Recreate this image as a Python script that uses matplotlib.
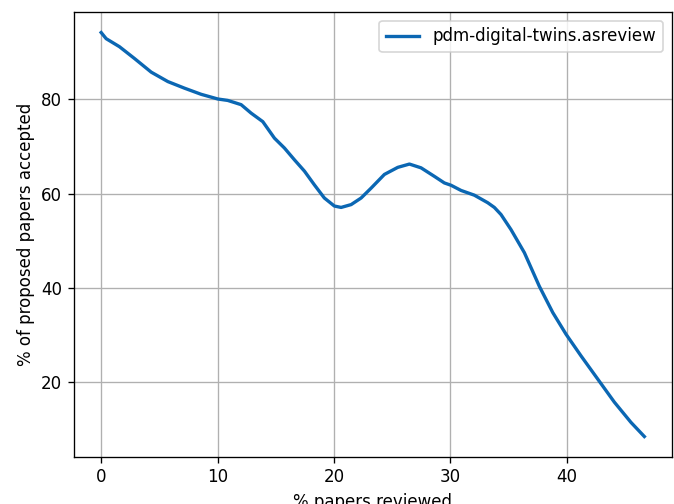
import matplotlib
matplotlib.use("Agg")
import matplotlib.pyplot as plt

# % papers reviewed vs % of proposed papers accepted
reviewed = [0.0, 0.43, 1.57, 2.86, 4.30, 5.73, 7.16, 8.59, 10.03, 10.88,
            12.03, 12.89, 13.89, 14.89, 15.75, 16.61, 17.47, 18.32, 19.18, 20.04,
            20.62, 21.48, 22.34, 23.20, 24.34, 25.49, 26.49, 27.49, 28.63, 29.49,
            30.07, 30.93, 32.07, 33.22, 33.79, 34.36, 35.22, 36.37, 37.65, 38.81,
            39.95, 41.24, 42.67, 44.10, 45.53, 46.68]
accepted = [94.2, 92.9, 91.2, 88.7, 85.8, 83.8, 82.4, 81.1, 80.1, 79.8,
            78.9, 77.1, 75.3, 71.8, 69.7, 67.2, 64.8, 61.9, 59.1, 57.4,
            57.1, 57.7, 59.1, 61.2, 64.1, 65.6, 66.3, 65.5, 63.7, 62.3,
            61.8, 60.7, 59.7, 58.1, 57.1, 55.6, 52.4, 47.5, 40.4, 34.8,
            30.2, 25.6, 20.7, 15.8, 11.5, 8.5]
LABEL = "pdm-digital-twins.asreview"

# reference is a 120 dpi render, cropped so the x label is cut at the bottom
fig = plt.figure(figsize=(674 / 120, 504 / 120), dpi=120)
ax = fig.add_axes([0.1098, 0.0938, 0.8865, 0.8817])
ax.plot(reviewed, accepted, color="#0b67b3", lw=2, label=LABEL)
ax.grid(True)
ax.set_xlabel("% papers reviewed")
ax.set_ylabel("% of proposed papers accepted")
ax.legend(loc="upper right")

fig.savefig("out.png", dpi=120)
